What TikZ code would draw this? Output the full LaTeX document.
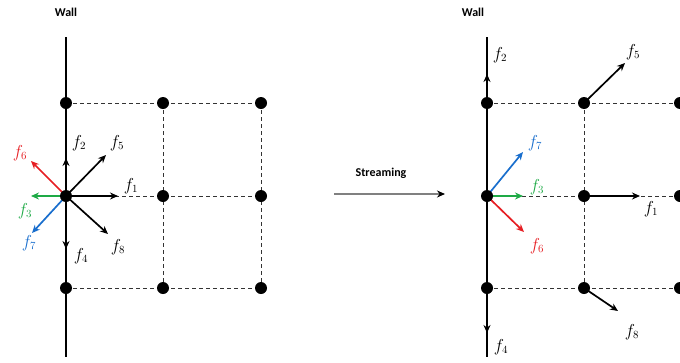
\documentclass[tikz,border=0pt]{standalone}
\usepackage{fontspec}
\setmainfont{Carlito}
\usetikzlibrary{arrows.meta}
\definecolor{fred}{RGB}{230,30,35}
\definecolor{fgreen}{RGB}{30,170,70}
\definecolor{fblue}{RGB}{25,110,205}
\begin{document}
\begin{tikzpicture}[x=1pt,y=-1pt,
  dot/.style={circle,fill=black,inner sep=0pt,minimum size=12pt},
  grid/.style={dashed,dash pattern=on 4pt off 3pt,gray!40!black,line width=1pt},
  wall/.style={line width=2.4pt},
  vec/.style={line width=1.7pt,-{Stealth[length=8pt,width=7pt]}},
  lab/.style={inner sep=0pt,font=\fontsize{16}{18}\selectfont},
  ttl/.style={inner sep=0pt,font=\bfseries\fontsize{12}{14}\selectfont}]
\useasboundingbox (0,0) rectangle (680,362);
\begin{scope}
\clip (0,0) rectangle (680,362);
% ---------- left panel ----------
\node[ttl] (wl) at (66,12) {Wall};
\coordinate (lwt) at (66,37);
\coordinate (lwb) at (66,357);
\draw[wall] (lwt) -- (lwb);
\foreach \i/\x in {a/66,b/163,c/261}{
  \foreach \j/\y in {1/103,2/196,3/288}{
    \coordinate (L\i\j) at (\x,\y);
  }
}
\draw[grid] (La1) -- (Lc1) (La3) -- (Lc3) (Lb1) -- (Lb3) (Lc1) -- (Lc3) (La2) -- (Lc2);
\coordinate (l1) at (118,196);
\coordinate (l2) at (66,158);
\coordinate (l3) at (31,196);
\coordinate (l4) at (66,249);
\coordinate (l5) at (106,155);
\coordinate (l6) at (31,161);
\coordinate (l7) at (32,233);
\coordinate (l8) at (108,234);
\draw[vec] (La2) -- (l1);
\draw[vec] (La2) -- (l2);
\draw[vec] (La2) -- (l4);
\draw[vec] (La2) -- (l5);
\draw[vec] (La2) -- (l8);
\draw[vec,fred] (La2) -- (l6);
\draw[vec,fgreen] (La2) -- (l3);
\draw[vec,fblue] (La2) -- (l7);
\foreach \i/\x in {a,b,c}{\foreach \j in {1,2,3}{\node[dot] (dL\i\j) at (L\i\j) {};}}
\node[lab] (t1) at (131,186) {$f_1$};
\node[lab] (t2) at (79,143) {$f_2$};
\node[lab] (t3) at (25,211) {$\color{fgreen}f_3$};
\node[lab] (t4) at (81,256) {$f_4$};
\node[lab] (t5) at (117,143) {$f_5$};
\node[lab] (t6) at (20,153) {$\color{fred}f_6$};
\node[lab] (t7) at (29,243) {$\color{fblue}f_7$};
\node[lab] (t8) at (118,247) {$f_8$};
% ---------- streaming ----------
\node[ttl] (st) at (381,173) {Streaming};
\coordinate (sa) at (334,194);
\coordinate (sb) at (445,194);
\draw[line width=1.3pt,gray,-{Stealth[length=8pt,width=7pt,black]}] (sa) -- (sb);
% ---------- right panel ----------
\node[ttl] (wr) at (473,12) {Wall};
\coordinate (rwt) at (487,37);
\coordinate (rwb) at (487,357);
\draw[wall] (rwt) -- (rwb);
\foreach \i/\x in {a/487,b/584,c/680}{
  \foreach \j/\y in {1/103,2/196,3/288}{
    \coordinate (R\i\j) at (\x,\y);
  }
}
\draw[grid] (Ra1) -- (Rc1) (Ra3) -- (Rc3) (Rb1) -- (Rb3) (Rc1) -- (Rc3) (Ra2) -- (Rc2);
\coordinate (r2s) at (487,103);
\coordinate (r2) at (487,74);
\coordinate (r4s) at (487,288);
\coordinate (r4) at (487,333);
\coordinate (r5) at (625,63);
\coordinate (r7) at (523,152);
\coordinate (r3) at (523,196);
\coordinate (r6) at (524,232);
\coordinate (r1) at (640,196);
\coordinate (r8) at (618,311);
\draw[vec] (r2s) -- (r2);
\draw[vec] (r4s) -- (r4);
\draw[vec] (Rb1) -- (r5);
\draw[vec] (Rb2) -- (r1);
\draw[vec] (Rb3) -- (r8);
\draw[vec,fblue] (Ra2) -- (r7);
\draw[vec,fgreen] (Ra2) -- (r3);
\draw[vec,fred] (Ra2) -- (r6);
\foreach \i in {a,b,c}{\foreach \j in {1,2,3}{\node[dot] (dR\i\j) at (R\i\j) {};}}
\node[lab] (u1) at (651,209) {$f_1$};
\node[lab] (u2) at (500,55) {$f_2$};
\node[lab] (u3) at (537,187) {$\color{fgreen}f_3$};
\node[lab] (u4) at (501,347) {$f_4$};
\node[lab] (u5) at (633,52) {$f_5$};
\node[lab] (u6) at (537,246) {$\color{fred}f_6$};
\node[lab] (u7) at (535,143) {$\color{fblue}f_7$};
\node[lab] (u8) at (632,332) {$f_8$};
\end{scope}
\end{tikzpicture}
\end{document}
